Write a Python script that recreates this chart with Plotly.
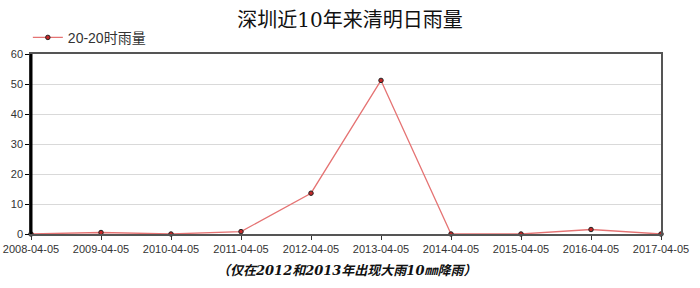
import plotly.graph_objects as go

dates = ["2008-04-05", "2009-04-05", "2010-04-05", "2011-04-05", "2012-04-05",
         "2013-04-05", "2014-04-05", "2015-04-05", "2016-04-05", "2017-04-05"]
rain = [0, 0.5, 0, 0.8, 13.6, 51.2, 0, 0, 1.5, 0]
series_name = "20-20时雨量"
title_text = "深圳近10年来清明日雨量"
note_text = "（仅在2012和2013年出现大雨10㎜降雨）"
y_ticks = [0, 10, 20, 30, 40, 50, 60]

fig = go.Figure()
fig.add_trace(go.Scatter(
    x=list(range(len(dates))), y=rain, mode="lines+markers", name=series_name,
    line=dict(color="#e57373", width=1.3),
    marker=dict(size=4.5, color="#c62828", line=dict(color="#222222", width=1)),
    cliponaxis=False,
))

fig.update_layout(
    width=700, height=288,
    margin=dict(l=31, r=39, t=54, b=54, autoexpand=False),
    paper_bgcolor="white", plot_bgcolor="white",
    font=dict(family="Arial, Liberation Sans, Noto Sans CJK SC", size=11, color="#333333"),
    title=dict(text=title_text, x=0.5, xanchor="center", y=0.93, yanchor="middle",
               font=dict(family="DejaVu Serif, Noto Sans CJK SC", size=20, color="#111111")),
    showlegend=True,
    legend=dict(x=-0.005, y=1.09, xref="paper", yref="paper", xanchor="left", yanchor="middle",
                bgcolor="rgba(0,0,0,0)", font=dict(family="Arial, Noto Sans CJK SC", size=14, color="#333333"),
                itemwidth=30),
    xaxis=dict(
        tickmode="array", tickvals=list(range(len(dates))), ticktext=dates,
        range=[0, len(dates) - 1], showgrid=False, zeroline=False, automargin=False,
        ticks="outside", ticklen=4, tickcolor="#333333",
        showline=True, linecolor="#555555", linewidth=1.5, mirror=True,
    ),
    yaxis=dict(
        range=[0, 60], tickvals=y_ticks, showgrid=True, gridcolor="#d9d9d9", gridwidth=1,
        zeroline=False, ticks="outside", ticklen=4, tickcolor="#000000", automargin=False,
        showline=True, linecolor="#555555", linewidth=1.5, mirror=True,
    ),
)

# thick left axis line
fig.add_shape(type="line", xref="paper", yref="paper", x0=0, x1=0, y0=0, y1=1,
              line=dict(color="#000000", width=3))

fig.add_annotation(text="<b><i>" + note_text + "</i></b>", xref="paper", yref="paper",
                   x=0.5, y=-0.2, xanchor="center", yanchor="middle", showarrow=False,
                   font=dict(family="DejaVu Serif, Noto Sans CJK SC", size=13, color="#111111"))

fig.write_html("out.html")
